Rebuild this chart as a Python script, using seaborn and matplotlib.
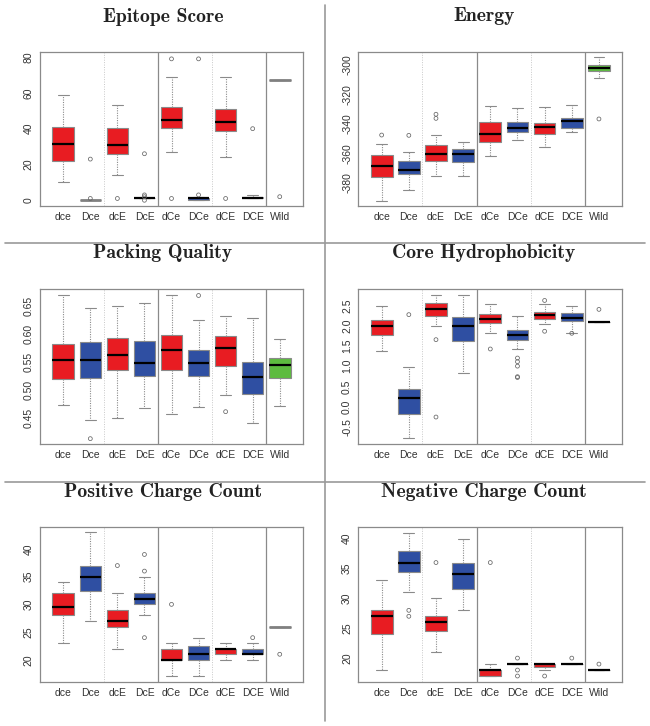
import numpy as np
import pandas as pd
import matplotlib
matplotlib.use("Agg")
import matplotlib.pyplot as plt
from matplotlib.lines import Line2D
import seaborn as sns

sns.set_theme(style="white")
plt.rcParams["font.family"] = ["Liberation Sans", "DejaVu Sans"]
plt.rcParams["axes.unicode_minus"] = False

CATS = ["dce", "Dce", "dcE", "DcE", "dCe", "DCe", "dCE", "DCE", "Wild"]
RED, BLUE, GREEN = "#E81C22", "#2F4FA2", "#5DBB3F"
BOX_COLORS = [RED, BLUE, RED, BLUE, RED, BLUE, RED, BLUE, GREEN]

# ---- Epitope Score ----
epi_lo  = [10, 0, 14, 1, 27, 0, 24, 1, 67]
epi_q1  = [22, 0, 26, 1, 40.5, 0, 38.5, 1, 67]
epi_med = [31.5, 0, 31, 1, 45, 1, 44, 1.5, 67]
epi_q3  = [41, 0, 40.5, 1.2, 52, 1.5, 51, 2, 67]
epi_hi  = [59, 0, 53, 1.2, 69, 2, 69, 3, 67]
epi_out = [[], [1, 23], [1], [0, 2, 3, 26], [1, 79], [3, 79], [1], [40], [2]]
epi_grey_median = ["Dce", "Wild"]
epi_ticks = [0, 20, 40, 60, 80]

# ---- Energy ----
en_lo  = [-392, -385, -375.3, -375.3, -362, -350.8, -355.6, -345.6, -309]
en_q1  = [-376.2, -374.1, -365.3, -365.8, -352.4, -345.6, -346.8, -342.7, -304.1]
en_med = [-368.2, -371.4, -360.3, -360.6, -346.6, -342.9, -342.3, -338, -301.8]
en_q3  = [-361.2, -365.1, -354, -357.2, -338.4, -338.4, -339.5, -336.2, -299.8]
en_hi  = [-353.3, -358.8, -347.7, -352, -327.6, -329.4, -328.7, -327.3, -294.8]
en_out = [[-347.5], [-347.7], [-333.4, -336.2], [], [], [], [], [], [-336.6]]
en_ticks = [-380, -360, -340, -320, -300]

# ---- Packing Quality ----
pq_lo  = [0.4737, 0.4465, 0.450, 0.469, 0.4577, 0.4695, 0.492, 0.4411, 0.4719]
pq_q1  = [0.5192, 0.522, 0.5358, 0.5246, 0.5352, 0.5246, 0.543, 0.4932, 0.521]
pq_med = [0.553, 0.553, 0.5618, 0.5476, 0.572, 0.5476, 0.5743, 0.5228, 0.5441]
pq_q3  = [0.5814, 0.5855, 0.5932, 0.5873, 0.598, 0.572, 0.5956, 0.5506, 0.5571]
pq_hi  = [0.668, 0.6453, 0.6488, 0.654, 0.668, 0.625, 0.631, 0.6287, 0.5902]
pq_out = [[], [0.4139], [], [], [], [0.668], [0.4618], [], []]
pq_ticks = [0.45, 0.50, 0.55, 0.60, 0.65]

# ---- Core Hydrophobicity ----
ch_lo  = [1.365, -0.78, 1.98, 0.822, 1.81, 1.414, 2.03, 1.826, 2.08]
ch_q1  = [1.76, -0.19, 2.237, 1.61, 2.064, 1.636, 2.155, 2.113, 2.08]
ch_med = [1.99, 0.214, 2.40, 2.0, 2.155, 1.76, 2.253, 2.196, 2.08]
ch_q3  = [2.13, 0.428, 2.566, 2.22, 2.294, 1.9, 2.327, 2.30, 2.08]
ch_hi  = [2.475, 0.979, 2.747, 2.747, 2.525, 2.245, 2.53, 2.49, 2.08]
ch_out = [[], [2.27], [1.653, -0.255], [], [1.423], [1.2, 1.11, 1.0, 0.74, 0.72],
          [2.62, 1.86], [1.81], [2.40]]
ch_ticks = [-0.5, 0.0, 0.5, 1.0, 1.5, 2.0, 2.5]

# ---- Positive Charge Count ----
pc_lo  = [23, 27, 22, 28, 17, 17, 20, 20, 26]
pc_q1  = [28, 32.5, 26, 30, 20, 20, 21, 21, 26]
pc_med = [29.5, 35, 27, 31, 20, 21, 22, 21, 26]
pc_q3  = [32, 37, 29, 32, 22, 22.5, 22, 22, 26]
pc_hi  = [34, 43, 32, 35, 23, 24, 23, 23, 26]
pc_out = [[], [], [37], [24, 36, 39], [30], [], [], [24], [21]]
pc_grey_median = ["Wild"]
pc_ticks = [20, 25, 30, 35, 40]

# ---- Negative Charge Count ----
nc_lo  = [18, 31, 21, 28, 17, 19, 18, 19, 18]
nc_q1  = [24, 34.5, 24.5, 31.5, 17, 19, 18.5, 19, 18]
nc_med = [27, 36, 26, 34, 18, 19, 19, 19, 18]
nc_q3  = [28, 38, 27, 36, 18, 19, 19, 19, 18]
nc_hi  = [33, 41, 30, 40, 19, 19, 19, 19, 18]
nc_out = [[], [27, 28], [36], [], [36], [17, 18, 20], [17], [20], [19]]
nc_ticks = [20, 25, 30, 35, 40]

PANELS = [
    dict(title="Epitope Score", lo=epi_lo, q1=epi_q1, med=epi_med, q3=epi_q3, hi=epi_hi,
         out=epi_out, grey=epi_grey_median, ticks=epi_ticks, fmt="{:.0f}", ylim=(-3.2, 83),
         rect=(40, 51.7, 303, 206), tx=163, ty=21.7),
    dict(title="Energy", lo=en_lo, q1=en_q1, med=en_med, q3=en_q3, hi=en_hi,
         out=en_out, grey=[], ticks=en_ticks, fmt="{:.0f}", ylim=(-395.6, -291),
         rect=(358.3, 51.7, 622.3, 206), tx=484, ty=21.2),
    dict(title="Packing Quality", lo=pq_lo, q1=pq_q1, med=pq_med, q3=pq_q3, hi=pq_hi,
         out=pq_out, grey=[], ticks=pq_ticks, fmt="{:.2f}", ylim=(0.4044, 0.679),
         rect=(40, 289.3, 303, 444), tx=163, ty=258.3),
    dict(title="Core Hydrophobicity", lo=ch_lo, q1=ch_q1, med=ch_med, q3=ch_q3, hi=ch_hi,
         out=ch_out, grey=[], ticks=ch_ticks, fmt="{:.1f}", ylim=(-0.92, 2.895),
         rect=(358.3, 289.3, 622.3, 444), tx=484, ty=258.3),
    dict(title="Positive Charge Count", lo=pc_lo, q1=pc_q1, med=pc_med, q3=pc_q3, hi=pc_hi,
         out=pc_out, grey=pc_grey_median, ticks=pc_ticks, fmt="{:.0f}", ylim=(16.0, 43.9),
         rect=(40, 527.3, 303, 682), tx=163, ty=496.7),
    dict(title="Negative Charge Count", lo=nc_lo, q1=nc_q1, med=nc_med, q3=nc_q3, hi=nc_hi,
         out=nc_out, grey=[], ticks=nc_ticks, fmt="{:.0f}", ylim=(16.0, 41.9),
         rect=(358.3, 527.3, 622.3, 682), tx=484, ty=496.7),
]

W, H = 650, 726
fig = plt.figure(figsize=(W / 100, H / 100), dpi=100)
fig.patch.set_facecolor("white")

GREY = "#8a8a8a"
K = 20  # repetition so the quartiles land exactly on the read values


def box_frame(p):
    rows = []
    for i, c in enumerate(CATS):
        vals = [p["lo"][i]] + [p["q1"][i]] * K + [p["med"][i]] * K + [p["q3"][i]] * K + [p["hi"][i]]
        rows += [(c, v) for v in vals]
    return pd.DataFrame(rows, columns=["cat", "val"])


def out_frame(p):
    rows = [(c, v) for c, vs in zip(CATS, p["out"]) for v in vs]
    return pd.DataFrame(rows, columns=["cat", "val"])


for p in PANELS:
    x0, y0, x1, y1 = p["rect"]
    ax = fig.add_axes([x0 / W, 1 - y1 / H, (x1 - x0) / W, (y1 - y0) / H])
    sns.boxplot(data=box_frame(p), x="cat", y="val", hue="cat", order=CATS, hue_order=CATS,
                palette=BOX_COLORS, saturation=1, legend=False, whis=(0, 100),
                showfliers=False, width=0.8, linecolor=GREY, linewidth=0.8,
                medianprops=dict(color="black", linewidth=1.6),
                whiskerprops=dict(linestyle=(0, (1, 1.2)), color=GREY),
                capprops=dict(color=GREY), ax=ax)
    # collapsed boxes whose median is drawn grey in the reference
    medians = []
    for cont in ax.containers:
        if hasattr(cont, "medians"):
            medians += list(cont.medians)
    for m in medians:
        xs = m.get_xdata()
        idx = int(round(float(np.mean(xs))))
        if 0 <= idx < len(CATS) and CATS[idx] in p["grey"]:
            m.set_color("#808080")
            m.set_linewidth(2.0)
    od = out_frame(p)
    n_before = len(ax.collections)
    sns.stripplot(data=od, x="cat", y="val", order=CATS, jitter=False, size=2.8,
                  color="white", edgecolor="#666666", linewidth=0.55, ax=ax)
    for coll in ax.collections[n_before:]:
        coll.set_facecolor("none")
        coll.set_edgecolor("#666666")
    for xv in (3.5, 7.5):
        ax.axvline(xv, color=GREY, lw=0.9, zorder=0.5)
    for xv in (1.5, 5.5):
        ax.axvline(xv, color="#c8c8c8", lw=0.7, ls=(0, (1, 1.5)), zorder=0.5)
    ax.set_xlim(-0.86, 8.86)
    ax.set_ylim(*p["ylim"])
    ax.set_yticks(p["ticks"])
    ax.set_yticklabels([p["fmt"].format(t) for t in p["ticks"]], rotation=90, va="center")
    ax.set_xticks(range(len(CATS)))
    ax.set_xticklabels(CATS)
    ax.tick_params(axis="both", length=0, labelsize=7.5, colors="#333333")
    ax.tick_params(axis="y", pad=4.5)
    ax.tick_params(axis="x", pad=4)
    ax.set_xlabel("")
    ax.set_ylabel("")
    for s in ax.spines.values():
        s.set_color(GREY)
        s.set_linewidth(0.9)
    fig.text(p["tx"] / W, 1 - p["ty"] / H, p["title"], ha="center", va="baseline",
             fontsize=14.2, fontfamily="cmb10", color="#222222")

# panel separators
sep = dict(color="#9a9a9a", lw=1.2)
for yy in (243, 482):
    fig.add_artist(Line2D([5 / W, 645 / W], [1 - yy / H, 1 - yy / H], **sep))
fig.add_artist(Line2D([325 / W, 325 / W], [1 - 5 / H, 1 - 721 / H], **sep))

fig.savefig("out.png", dpi=100, facecolor="white")
